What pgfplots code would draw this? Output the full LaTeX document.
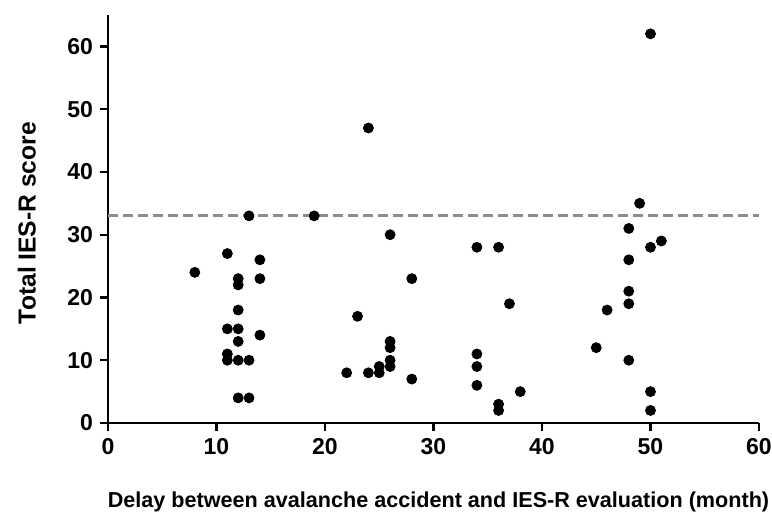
\documentclass[border=0pt]{standalone}
\usepackage{pgfplots}
\pgfplotsset{compat=1.18}
\usepackage{fontspec}
\setmainfont{Liberation Sans}
\begin{document}
\begin{tikzpicture}
\useasboundingbox (-54pt,-44pt) rectangle (332pt,211.5pt);
\begin{axis}[
  scale only axis, width=325.5pt, height=204pt,
  xmin=0, xmax=60, ymin=0, ymax=65,
  axis x line*=bottom, axis y line*=left,
  axis line style={line width=1.4pt},
  xtick={0,10,...,60}, ytick={0,10,...,60},
  tick style={line width=1.2pt, black},
  major tick length=4pt,
  tick align=outside,
  /pgf/number format/assume math mode=true,
  tick label style={font=\bfseries\fontsize{11.5}{12}\selectfont},
  xlabel={Delay between avalanche accident and IES-R evaluation (month)},
  ylabel={Total IES-R score},
  xlabel style={font=\bfseries\fontsize{10.8}{12}\selectfont, at={(axis description cs:0.5077,-0.168)}, anchor=north, inner sep=0pt},
  ylabel style={font=\bfseries\fontsize{12.3}{13}\selectfont, at={(axis description cs:-0.11,0.49)}, anchor=south, inner sep=0pt},
  clip=false,
]
\addplot[gray!90, dash pattern=on 5pt off 2.5pt, line width=1.4pt] coordinates {(0,33) (60,33)};
\addplot[only marks, mark=*, mark size=2.5pt, black] coordinates {
(8,24) (11,27) (11,15) (11,11) (11,10)
(12,23) (12,22) (12,18) (12,15) (12,13) (12,10) (12,4)
(13,33) (13,10) (13,4)
(14,26) (14,23) (14,14)
(19,33) (22,8) (23,17) (24,47) (24,8) (25,9) (25,8)
(26,30) (26,13) (26,12) (26,10) (26,9)
(28,23) (28,7)
(34,28) (34,11) (34,9) (34,6)
(36,28) (36,3) (36,2) (37,19) (38,5)
(45,12) (46,18)
(48,31) (48,26) (48,21) (48,19) (48,10)
(49,35) (50,62) (50,28) (50,5) (50,2) (51,29)
};
\end{axis}
\end{tikzpicture}
\end{document}
